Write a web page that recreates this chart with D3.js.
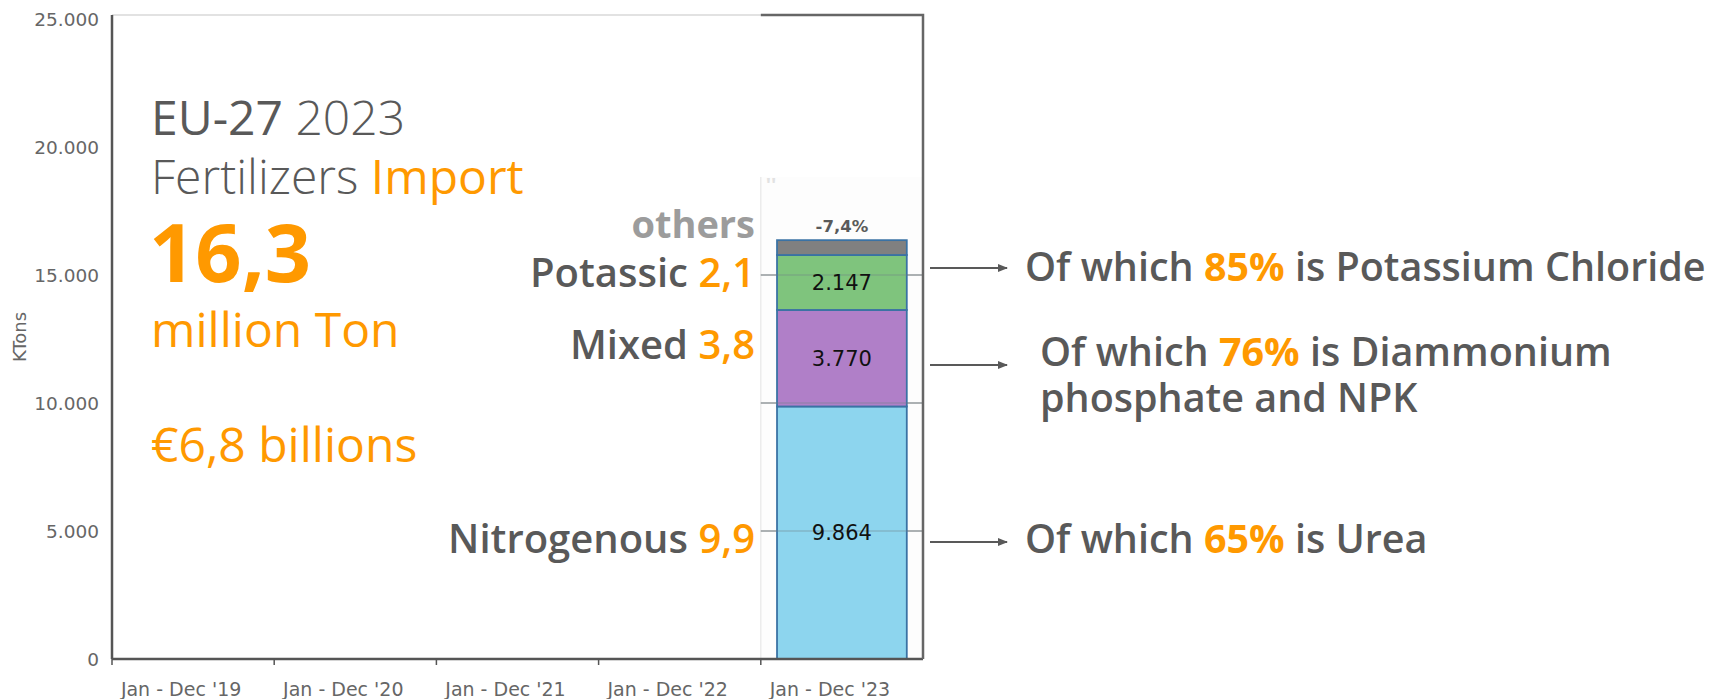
<!DOCTYPE html>
<html>
<head>
<meta charset="utf-8">
<script src="https://cdn.jsdelivr.net/npm/d3@7"></script>
<style>
  body { margin: 0; background: #fff; }
  svg text { font-family: "Open Sans", sans-serif; }
  .tick-label { font-family: "DejaVu Sans", Verdana, sans-serif; fill: #666; }
</style>
</head>
<body>
<svg id="chart" width="1717" height="699"></svg>
<script>
// data (KTons)
const periods = ["Jan - Dec '19", "Jan - Dec '20", "Jan - Dec '21", "Jan - Dec '22", "Jan - Dec '23"];
const nitrogenous = [0, 0, 0, 0, 9864];
const mixed = [0, 0, 0, 0, 3770];
const potassic = [0, 0, 0, 0, 2147];
const others = [0, 0, 0, 0, 580];
const seriesKeys = ["Nitrogenous", "Mixed", "Potassic", "others"];
const seriesColors = ["#8dd5ee", "#b07fc8", "#7fc47d", "#808080"];
const yTicks = [0, 5000, 10000, 15000, 20000, 25000];
const changeText = "-7,4%";

// headline figures
const totalMillion = "16,3";
const valueText = "€6,8 billions";

// side labels (million tons) and notes
const sideNames = ["Nitrogenous", "Mixed", "Potassic", "others"];
const sideValues = ["9,9", "3,8", "2,1", ""];
const notePct = ["65%", "76%", "85%"];
const noteRest = [[" is Urea"], [" is Diammonium", "phosphate and NPK"], [" is Potassium Chloride"]];

const ORANGE = "#ff9900", GREY = "#595959";

const svg = d3.select("#chart");
svg.append("rect").attr("width", 1717).attr("height", 699).attr("fill", "#fff");

const x = d3.scaleBand().domain(periods).range([112, 923]).padding(0);
const y = d3.scaleLinear().domain([0, 25000]).range([659, 19]);
const fmt = d3.formatLocale({decimal: ",", thousands: ".", grouping: [3], currency: ["€", ""]}).format(",d");

const rows = periods.map((p, i) => ({period: p, Nitrogenous: nitrogenous[i], Mixed: mixed[i], Potassic: potassic[i], others: others[i]}));
const stacked = d3.stack().keys(seriesKeys)(rows);

const last = periods[periods.length - 1];
const x0 = x(last), x1 = x0 + x.bandwidth(); // pasted-in panel of the last year

// frame: light top border, then the last panel's own darker frame
svg.append("line").attr("x1", 112).attr("x2", x0).attr("y1", 15).attr("y2", 15)
  .attr("stroke", "#d8d8d8").attr("stroke-width", 1.5);
svg.append("rect").attr("x", x0).attr("y", 177).attr("width", x.bandwidth()).attr("height", y(0) - 177)
  .attr("fill", "#fdfdfd");
svg.append("line").attr("x1", x0).attr("x2", x0).attr("y1", 177).attr("y2", y(0))
  .attr("stroke", "#ececec").attr("stroke-width", 1.5);
svg.append("text").attr("x", x0 + 5).attr("y", 192).attr("fill", "#e2e2e2")
  .style("font-size", "20px").style("font-weight", 700).text("''");

// gridlines only inside the last panel
svg.append("g").selectAll("line")
  .data(yTicks.filter(t => t > 0 && t < 20000))
  .join("line")
  .attr("x1", x0).attr("x2", x1)
  .attr("y1", d => y(d)).attr("y2", d => y(d))
  .attr("stroke", "#8c8c8c").attr("stroke-width", 1.2);

// stacked bar
const barW = x.bandwidth() * 0.8;
const barX = d => x(d.data.period) + (x.bandwidth() - barW) / 2;
svg.append("g").selectAll("g")
  .data(stacked)
  .join("g")
  .attr("fill", (d, i) => seriesColors[i])
  .selectAll("rect")
  .data(d => d.filter(s => s[1] - s[0] > 0))
  .join("rect")
  .attr("x", barX)
  .attr("y", d => y(d[1]))
  .attr("width", barW)
  .attr("height", d => y(d[0]) - y(d[1]))
  .attr("stroke", "#3a72a4")
  .attr("stroke-width", 1.8);

// the 15.000 / 10.000 / 5.000 lines cross the bar in the picture
svg.append("g").selectAll("line")
  .data(yTicks.filter(t => t > 0 && t < 20000))
  .join("line")
  .attr("x1", x0).attr("x2", x1)
  .attr("y1", d => y(d)).attr("y2", d => y(d))
  .attr("stroke", "#6f7f88").attr("stroke-opacity", 0.55).attr("stroke-width", 1.2);

// value labels inside segments (skip "others")
svg.append("g").selectAll("text")
  .data(stacked.slice(0, 3).flatMap(s => s.filter(d => d[1] - d[0] > 0)))
  .join("text")
  .attr("class", "tick-label")
  .attr("x", d => x(d.data.period) + x.bandwidth() / 2)
  .attr("y", d => (y(d[0]) + y(d[1])) / 2)
  .attr("dy", "0.36em")
  .attr("text-anchor", "middle")
  .style("fill", "#111")
  .style("font-size", "21px")
  .text(d => fmt(d[1] - d[0]));

// change label above the bar
const topRow = rows[rows.length - 1];
const total = d3.sum(seriesKeys, k => topRow[k]);
svg.append("text")
  .attr("class", "tick-label")
  .attr("x", x0 + x.bandwidth() / 2)
  .attr("y", y(total) - 8)
  .attr("text-anchor", "middle")
  .style("fill", "#5a5a5a").style("font-size", "16.5px").style("font-weight", 700)
  .text(changeText);

// axes
svg.append("line").attr("x1", 112).attr("x2", 112).attr("y1", 15).attr("y2", y(0))
  .attr("stroke", "#555").attr("stroke-width", 2.5);
svg.append("line").attr("x1", 112).attr("x2", x1).attr("y1", y(0)).attr("y2", y(0))
  .attr("stroke", "#555").attr("stroke-width", 2.5);
svg.append("path").attr("d", `M${x0},15H${x1}V${y(0)}`)
  .attr("fill", "none").attr("stroke", "#666").attr("stroke-width", 2.5);

svg.append("g").selectAll("line")
  .data(periods)
  .join("line")
  .attr("x1", d => x(d)).attr("x2", d => x(d))
  .attr("y1", y(0)).attr("y2", y(0) + 6)
  .attr("stroke", "#555").attr("stroke-width", 1.5);

svg.append("g").selectAll("text")
  .data(periods)
  .join("text")
  .attr("class", "tick-label")
  .attr("x", d => x(d) + x.bandwidth() / 2 - 12)
  .attr("y", 696)
  .attr("text-anchor", "middle")
  .style("font-size", "19px")
  .text(d => d);

svg.append("g").selectAll("text")
  .data(yTicks)
  .join("text")
  .attr("class", "tick-label")
  .attr("x", 99)
  .attr("y", d => y(d))
  .attr("dy", "0.36em")
  .attr("text-anchor", "end")
  .style("font-size", "18.5px")
  .text(d => fmt(d));

svg.append("text")
  .attr("class", "tick-label")
  .attr("transform", "translate(26,337) rotate(-90)")
  .attr("text-anchor", "middle")
  .style("font-size", "18px")
  .text("KTons");

// headline block
const head = svg.append("g").attr("transform", "translate(151,0)");
const t1 = head.append("text").attr("y", 135).style("font-size", "48px");
t1.append("tspan").attr("fill", GREY).style("font-weight", 500).text("EU-27 ");
t1.append("tspan").attr("fill", GREY).style("font-weight", 300).text("2023");
const t2 = head.append("text").attr("y", 194).style("font-size", "48px").style("font-weight", 300);
t2.append("tspan").attr("fill", GREY).text("Fertilizers ");
t2.append("tspan").attr("fill", ORANGE).style("font-weight", 400).text("Import");
head.append("text").attr("y", 282).attr("x", -2).attr("fill", ORANGE)
  .style("font-size", "81px").style("font-weight", 700).text(totalMillion);
head.append("text").attr("y", 347).attr("fill", ORANGE).style("font-size", "48px").text("million Ton");
head.append("text").attr("y", 462).attr("fill", ORANGE).style("font-size", "48px").text(valueText);

// side labels, right-aligned next to the bar panel
const sideY = [553, 359, 287, 238];
sideNames.forEach((n, i) => {
  const t = svg.append("text").attr("x", 755).attr("y", sideY[i]).attr("text-anchor", "end")
    .style("font-size", "40px").style("font-weight", 600);
  if (sideValues[i]) {
    t.append("tspan").attr("fill", GREY).text(n + " ");
    t.append("tspan").attr("fill", ORANGE).text(sideValues[i]);
  } else {
    t.attr("fill", "#9c9c9c").style("font-size", "38px").style("font-weight", 700).text(n);
  }
});

// arrows and notes on the right
svg.append("defs").append("marker")
  .attr("id", "head").attr("viewBox", "0 0 10 10").attr("refX", 9).attr("refY", 5)
  .attr("markerWidth", 5).attr("markerHeight", 5).attr("orient", "auto")
  .append("path").attr("d", "M0,1L10,5L0,9Z").attr("fill", GREY);

const arrowY = [542, 365, 268];
const noteX = [1025, 1040, 1025];
const noteY = [553, 366, 281];
notePct.forEach((p, i) => {
  svg.append("line").attr("x1", 930).attr("x2", 1007).attr("y1", arrowY[i]).attr("y2", arrowY[i])
    .attr("stroke", GREY).attr("stroke-width", 2).attr("marker-end", "url(#head)");
  const t = svg.append("text").attr("x", noteX[i]).attr("y", noteY[i])
    .style("font-size", "39.5px").style("font-weight", 600).attr("fill", GREY);
  t.append("tspan").text("Of which ");
  t.append("tspan").attr("fill", ORANGE).style("font-weight", 700).text(p);
  t.append("tspan").text(noteRest[i][0]);
  if (noteRest[i][1]) {
    svg.append("text").attr("x", noteX[i]).attr("y", noteY[i] + 46)
      .style("font-size", "39.5px").style("font-weight", 600).attr("fill", GREY).text(noteRest[i][1]);
  }
});
</script>
</body>
</html>
